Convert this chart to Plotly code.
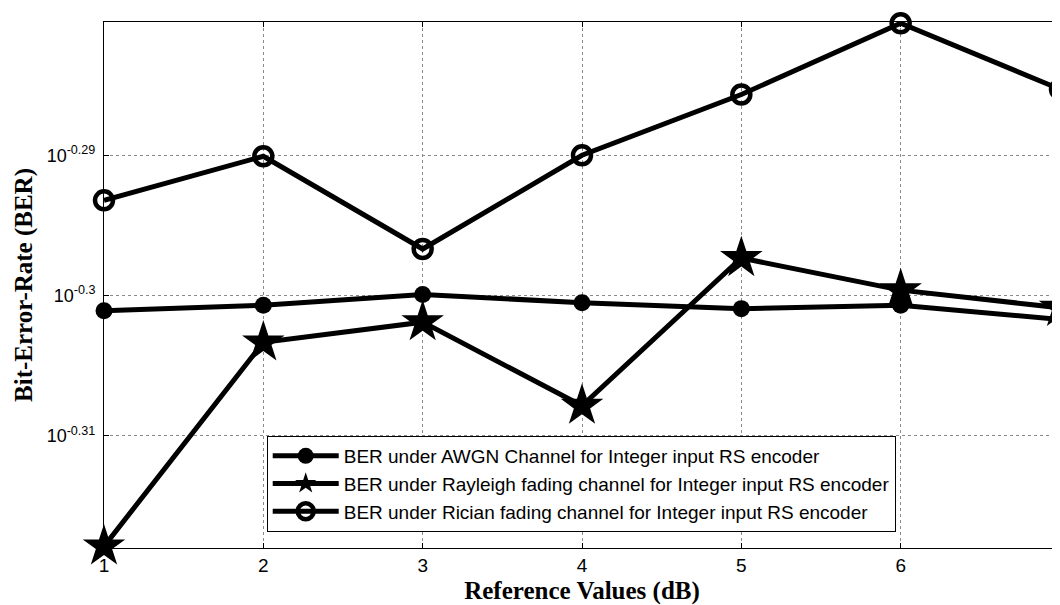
import plotly.graph_objects as go

x_vals = [1, 2, 3, 4, 5, 6, 7]
ber_awgn = [0.49994, 0.50038, 0.50127, 0.50060, 0.50011, 0.50038, 0.49922]
ber_rayleigh = [0.48097, 0.49735, 0.49900, 0.49220, 0.50428, 0.50163, 0.50018]
ber_rician = [0.50908, 0.51278, 0.50503, 0.51286, 0.51800, 0.52410, 0.51845]

names = [
    "BER under AWGN Channel for Integer input RS encoder",
    "BER under Rayleigh fading channel for Integer input RS encoder",
    "BER under Rician fading channel for Integer input RS encoder",
]

y_tick_vals = [10 ** -0.31, 10 ** -0.30, 10 ** -0.29]
y_tick_text = ["10<sup>-0.31</sup>", "10<sup>-0.3</sup>", "10<sup>-0.29</sup>"]
x_tick_vals = [1, 2, 3, 4, 5, 6]

fig = go.Figure()
fig.add_trace(go.Scatter(
    x=x_vals, y=ber_awgn, name=names[0], mode="lines+markers",
    line=dict(color="black", width=5),
    marker=dict(symbol="circle", size=17, color="black"),
    cliponaxis=False,
))
fig.add_trace(go.Scatter(
    x=x_vals, y=ber_rayleigh, name=names[1], mode="lines+markers",
    line=dict(color="black", width=5),
    marker=dict(symbol="star", size=32, color="black"),
    cliponaxis=False,
))
fig.add_trace(go.Scatter(
    x=x_vals, y=ber_rician, name=names[2], mode="lines+markers",
    line=dict(color="black", width=5),
    marker=dict(symbol="circle-open", size=18, color="black", line=dict(width=4.5, color="black")),
    cliponaxis=False,
))

# page body has an 8px default margin, so the figure is 8px smaller
fig.update_layout(
    width=1052, height=597,
    margin=dict(l=96, r=0, t=14, b=57),
    paper_bgcolor="white", plot_bgcolor="white",
    font=dict(family="Liberation Sans, Arial", size=18, color="black"),
    showlegend=True,
    legend=dict(
        x=0.1702, y=0.2130, xanchor="left", yanchor="top",
        bgcolor="white", bordercolor="black", borderwidth=1,
        font=dict(family="Liberation Sans, Arial", size=19, color="black"),
        itemwidth=66,
    ),
)
fig.update_xaxes(
    range=[1, 7],
    tickvals=x_tick_vals,
    tickfont=dict(size=19),
    showline=True, linecolor="black", linewidth=1, mirror="ticks",
    ticks="inside", ticklen=5, tickcolor="black",
    showgrid=True, gridcolor="#8a8a8a", griddash="dot", gridwidth=1,
    zeroline=False,
    title=dict(text="<b>Reference Values (dB)</b>",
               font=dict(family="Liberation Serif, Times New Roman", size=25), standoff=12),
)
fig.update_yaxes(
    type="log",
    range=[-0.3180, -0.28050],
    tickvals=y_tick_vals, ticktext=y_tick_text,
    tickfont=dict(size=18),
    ticklabelstandoff=4,
    showline=True, linecolor="black", linewidth=1, mirror="ticks",
    ticks="inside", ticklen=5, tickcolor="black",
    showgrid=True, gridcolor="#8a8a8a", griddash="dot", gridwidth=1,
    zeroline=False,
    title=dict(text="<b>Bit-Error-Rate (BER)</b>",
               font=dict(family="Liberation Serif, Times New Roman", size=25), standoff=6),
)

fig.write_html("out.html")
